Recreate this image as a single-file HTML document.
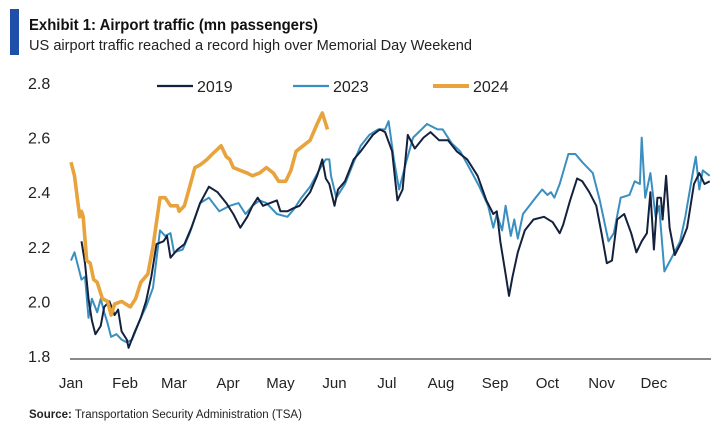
<!DOCTYPE html>
<html><head><meta charset="utf-8"><style>
html,body{margin:0;padding:0;background:#fff;width:723px;height:436px;overflow:hidden}
svg{display:block;font-family:"Liberation Sans",sans-serif}
</style></head><body>
<svg id="chart" width="723" height="436" viewBox="0 0 723 436">
<rect x="10" y="9" width="9" height="46" fill="#1f4fa8"/>
<text x="29" y="30" font-size="16" font-weight="bold" fill="#111" textLength="289" lengthAdjust="spacingAndGlyphs">Exhibit 1: Airport traffic (mn passengers)</text>
<text x="29" y="50" font-size="15" fill="#222" textLength="443" lengthAdjust="spacingAndGlyphs">US airport traffic reached a record high over Memorial Day Weekend</text>
<g id="yaxis"></g>
<g id="xaxis"></g>
<line x1="70" y1="359" x2="711" y2="359" stroke="#8a8a8a" stroke-width="2"/>
<g id="series"></g>
<g>
<g><line x1="157" y1="86" x2="193" y2="86" stroke="#14213d" stroke-width="2.2"/><text x="197" y="92" font-size="16" fill="#222">2019</text></g>
<g><line x1="293" y1="86" x2="329" y2="86" stroke="#3a8fc0" stroke-width="2.2"/><text x="333" y="92" font-size="16" fill="#222">2023</text></g>
<g><line x1="433" y1="86" x2="469" y2="86" stroke="#e8a33d" stroke-width="4"/><text x="473" y="92" font-size="16" fill="#222">2024</text></g>
</g>
<text x="29" y="418" font-size="11.5" fill="#222"><tspan font-weight="bold">Source:</tspan> Transportation Security Administration (TSA)</text>
</svg>
<script>
const yTicks=[1.8,2.0,2.2,2.4,2.6,2.8];
const yTickLabels=["1.8","2.0","2.2","2.4","2.6","2.8"];
const months=["Jan","Feb","Mar","Apr","May","Jun","Jul","Aug","Sep","Oct","Nov","Dec"];
const monthStartDays=[0,31,59,90,120,151,181,212,243,273,304,334];
const days2019=[6,8,10,12,14,17,19,22,25,27,29,32,33,36,40,43,46,49,53,55,57,61,65,69,74,79,84,89,93,97,101,104,107,110,114,118,120,124,127,131,137,141,144,146,148,151,153,157,162,166,173,177,180,184,187,190,193,197,202,206,211,216,221,227,233,238,242,244,246,249,251,253,256,260,265,271,276,280,282,286,290,293,297,301,304,307,310,313,317,321,324,327,330,332,334,336,338,339,341,343,346,350,353,357,360,363,366];
const vals2019=[2.22,2.14,2.01,1.93,1.88,1.91,1.98,2.0,1.95,1.97,1.89,1.86,1.83,1.88,1.94,2.0,2.09,2.21,2.22,2.24,2.16,2.19,2.21,2.27,2.36,2.42,2.40,2.36,2.32,2.27,2.31,2.35,2.38,2.35,2.36,2.37,2.33,2.33,2.34,2.35,2.40,2.46,2.52,2.45,2.43,2.35,2.41,2.44,2.52,2.55,2.61,2.63,2.62,2.55,2.37,2.41,2.61,2.56,2.60,2.62,2.59,2.59,2.55,2.52,2.46,2.37,2.32,2.33,2.22,2.10,2.02,2.09,2.18,2.26,2.30,2.31,2.29,2.25,2.28,2.37,2.45,2.44,2.40,2.35,2.25,2.14,2.15,2.30,2.32,2.25,2.18,2.22,2.25,2.40,2.19,2.38,2.38,2.30,2.46,2.27,2.17,2.22,2.27,2.43,2.47,2.43,2.44];
const days2023=[0,2,4,6,8,10,12,15,17,19,21,23,26,29,32,35,40,43,47,51,54,57,59,64,68,74,79,85,91,96,100,104,108,112,118,124,128,132,137,143,146,148,149,152,157,162,166,171,176,180,182,185,188,192,196,204,210,213,218,223,229,234,239,242,244,247,249,252,254,256,259,265,270,273,275,277,280,285,289,293,299,303,308,311,315,320,323,326,327,329,332,335,337,340,345,349,352,356,358,360,362,366];
const vals2023=[2.15,2.18,2.13,2.08,2.09,1.94,2.01,1.96,2.01,1.96,1.92,1.87,1.88,1.86,1.85,1.86,1.94,1.98,2.05,2.26,2.24,2.25,2.18,2.19,2.25,2.36,2.38,2.33,2.35,2.36,2.32,2.35,2.37,2.36,2.32,2.31,2.34,2.38,2.42,2.49,2.52,2.52,2.46,2.38,2.43,2.51,2.57,2.61,2.63,2.63,2.66,2.52,2.41,2.51,2.60,2.65,2.63,2.63,2.58,2.55,2.48,2.42,2.35,2.27,2.32,2.26,2.35,2.24,2.30,2.23,2.32,2.37,2.41,2.39,2.40,2.38,2.43,2.54,2.54,2.51,2.47,2.37,2.22,2.25,2.38,2.39,2.44,2.43,2.60,2.38,2.47,2.31,2.35,2.11,2.17,2.22,2.31,2.46,2.53,2.41,2.48,2.46];
const days2024=[0,2,5,6,7,9,11,13,15,18,21,23,25,29,34,37,40,44,47,51,54,57,61,62,65,68,71,74,78,81,86,89,91,93,97,101,104,108,112,116,119,123,126,129,133,137,141,144,146,147];
const vals2024=[2.51,2.46,2.31,2.33,2.31,2.15,2.14,2.08,2.07,2.01,2.0,1.95,1.99,2.0,1.98,2.01,2.07,2.10,2.20,2.38,2.38,2.35,2.35,2.33,2.35,2.42,2.49,2.50,2.52,2.54,2.57,2.53,2.52,2.49,2.48,2.47,2.46,2.47,2.49,2.47,2.44,2.44,2.48,2.55,2.57,2.59,2.65,2.69,2.65,2.63];
const NS="http://www.w3.org/2000/svg";
function xScale(d){return 71+d*(637/365);}
function yScale(v){return 356-(v-1.8)*273;}
const svg=document.getElementById('chart');
const yg=document.getElementById('yaxis');
yTicks.forEach((t,i)=>{
  const el=document.createElementNS(NS,'text');
  
  
  el.setAttribute('x',28);el.setAttribute('y',yScale(t)+6);
  el.setAttribute('font-size','16');el.setAttribute('fill','#222');
  el.textContent=yTickLabels[i];yg.appendChild(el);
});
const xg=document.getElementById('xaxis');
months.forEach((m,i)=>{
  const el=document.createElementNS(NS,'text');
  
  
  el.setAttribute('x',xScale(monthStartDays[i]));el.setAttribute('y',388);
  el.setAttribute('text-anchor','middle');
  el.setAttribute('font-size','15');el.setAttribute('fill','#222');
  el.textContent=m;xg.appendChild(el);
});
const sg=document.getElementById('series');
function draw(days,vals,color,w,name){
  const p=document.createElementNS(NS,'path');
  
  
  p.setAttribute('d',days.map((d,i)=>(i?'L':'M')+xScale(d).toFixed(1)+' '+yScale(vals[i]).toFixed(1)).join(''));
  p.setAttribute('fill','none');p.setAttribute('stroke',color);
  p.setAttribute('stroke-width',w);p.setAttribute('stroke-linejoin','round');
  sg.appendChild(p);
}
draw(days2023,vals2023,'#3a8fc0',2,'line-2023');
draw(days2019,vals2019,'#14213d',2,'line-2019');
draw(days2024,vals2024,'#e8a33d',3.6,'line-2024');
</script>
</body></html>
